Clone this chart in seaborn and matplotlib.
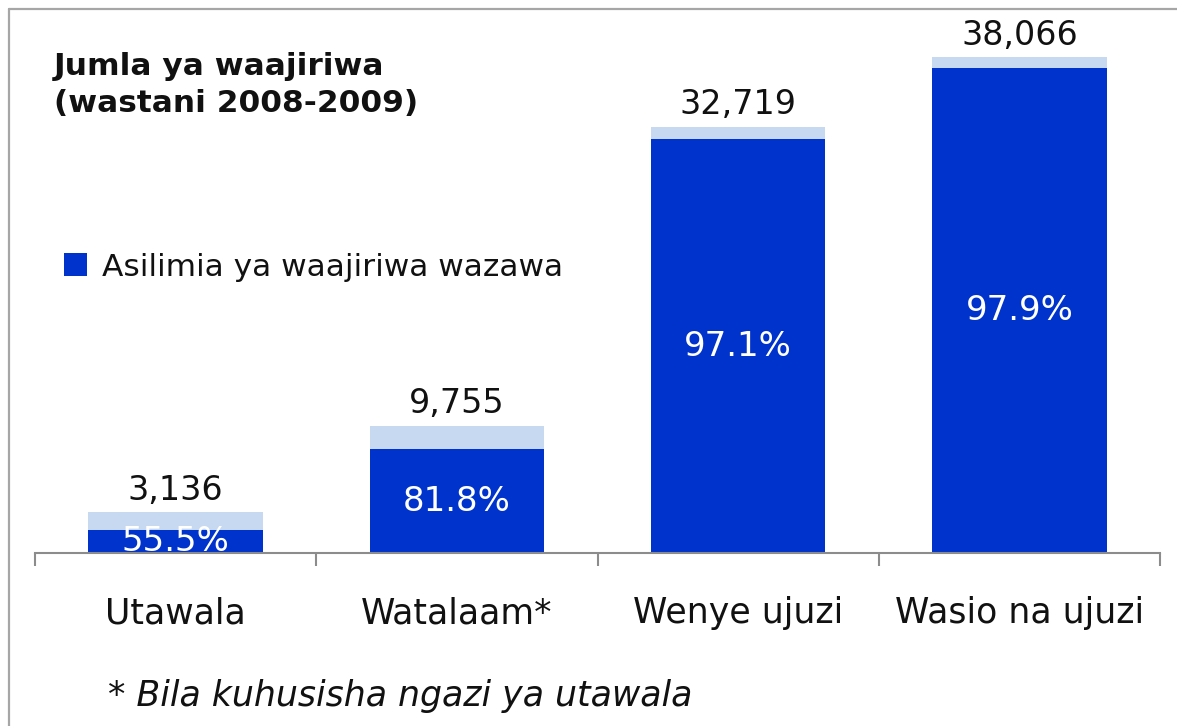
import matplotlib
matplotlib.use("Agg")
import matplotlib.pyplot as plt
import seaborn as sns
import pandas as pd
from matplotlib.patches import Patch
from matplotlib.lines import Line2D
from matplotlib.ticker import FixedLocator

# ---- data ----
categories = ["Utawala", "Watalaam*", "Wenye ujuzi", "Wasio na ujuzi"]
totals = [3136, 9755, 32719, 38066]
local_pct = [55.5, 81.8, 97.1, 97.9]
title_lines = ["Jumla ya waajiriwa", "(wastani 2008-2009)"]
legend_label = "Asilimia ya waajiriwa wazawa"
footnote = "* Bila kuhusisha ngazi ya utawala"

local_vals = [t * p / 100 for t, p in zip(totals, local_pct)]
df = pd.DataFrame({"cat": categories, "total": totals, "local": local_vals, "pct": local_pct})

DARK = "#0033CC"
LIGHT = "#C6D9F1"
GREY = "#8C8C8C"

sns.set_theme(style="white")
plt.rcParams["font.family"] = ["DejaVu Sans"]

W, H = 1177, 726
fig = plt.figure(figsize=(W / 100, H / 100), dpi=100)
ax = fig.add_axes([35 / W, 1 - 553 / H, (1160 - 35) / W, (553 - 10) / H])

sns.barplot(data=df, x="cat", y="total", order=categories, color=LIGHT,
            width=0.62, saturation=1, ax=ax, linewidth=0)
sns.barplot(data=df, x="cat", y="local", order=categories, color=DARK,
            width=0.62, saturation=1, ax=ax, linewidth=0)

ax.set_xlim(-0.5, len(categories) - 0.5)
ax.set_ylim(0, 543 / 0.01302)
ax.set_xlabel("")
ax.set_ylabel("")
ax.set_yticks([])
for s in ["top", "right", "left"]:
    ax.spines[s].set_visible(False)
ax.spines["bottom"].set_color(GREY)
ax.spines["bottom"].set_linewidth(1.5)
ax.spines["bottom"].set_zorder(5)

ax.xaxis.set_minor_locator(FixedLocator([i - 0.5 for i in range(len(categories) + 1)]))
ax.tick_params(axis="x", which="minor", length=9.5, width=1.5, color=GREY, direction="out", bottom=True)
ax.tick_params(axis="x", which="major", length=0, pad=31, labelsize=25, labelcolor="#111111")

# value labels
for i, (t, p, l) in enumerate(zip(totals, local_pct, local_vals)):
    ax.annotate(f"{t:,}", (i, t), xytext=(0, 4), textcoords="offset points",
                ha="center", va="bottom", fontsize=24, color="#111111")
    ax.text(i, l / 2, f"{p:.1f}%", ha="center", va="center", fontsize=24.5,
            color="white", clip_on=True, zorder=4)

# title
fig.text(54 / W, 1 - 75 / H, title_lines[0], fontsize=22.5, fontweight="bold",
         family="DejaVu Sans", va="baseline", ha="left", color="#111111")
fig.text(54 / W, 1 - 112 / H, title_lines[1], fontsize=22.5, fontweight="bold",
         family="DejaVu Sans", va="baseline", ha="left", color="#111111")

# legend
handles = [Patch(facecolor=DARK, edgecolor="none", label=legend_label)]
ax.legend(handles=handles, loc="center left", bbox_to_anchor=(64 / W, 1 - 267 / H),
          bbox_transform=fig.transFigure, frameon=False, fontsize=22.5,
          handlelength=0.75, handleheight=0.75, handletextpad=0.45,
          borderpad=0, borderaxespad=0, labelcolor="#111111")

# footnote
fig.text(108 / W, 1 - 706 / H, footnote, fontsize=25, style="italic",
         va="baseline", ha="left", color="#111111")

# figure frame (top and left)
fig.add_artist(Line2D([9 / W, 1], [1 - 9 / H, 1 - 9 / H], transform=fig.transFigure,
                      color="#A6A6A6", lw=1.6))
fig.add_artist(Line2D([9 / W, 9 / W], [0, 1 - 9 / H], transform=fig.transFigure,
                      color="#A6A6A6", lw=1.6))

fig.savefig("out.png", dpi=100)
